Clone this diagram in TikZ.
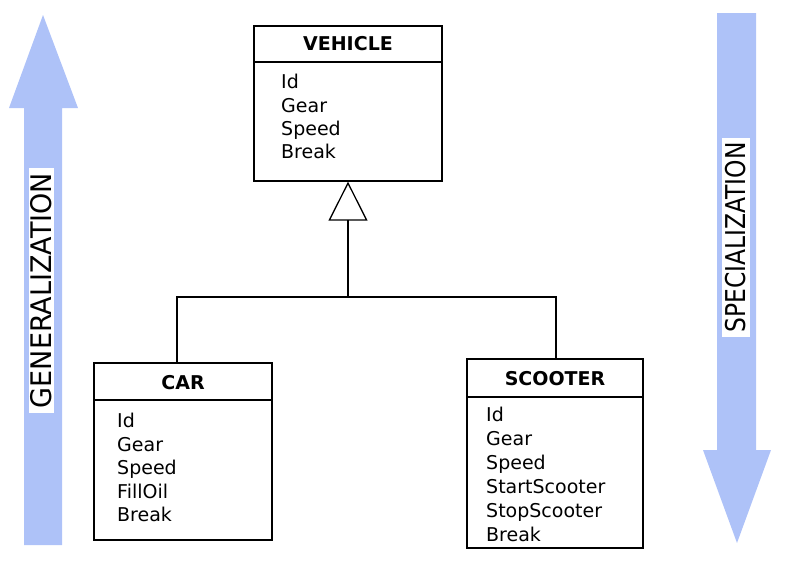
\documentclass[tikz,border=0pt]{standalone}
\usepackage{fontspec}
\setmainfont{DejaVu Sans}
\usetikzlibrary{arrows.meta}
\definecolor{arrowblue}{RGB}{174,194,248}
\begin{document}
\begin{tikzpicture}[x=1pt,y=-1pt,
  classbox/.style={draw=black, line width=1.3pt, rectangle, inner sep=0pt},
  sepline/.style={draw=black, line width=1.3pt},
  classtitle/.style={font=\fontsize{19}{22}\selectfont\bfseries, anchor=center, inner sep=0pt},
  attr/.style={font=\fontsize{19}{22}\selectfont, anchor=base west, inner sep=0pt},
  conn/.style={draw=black, line width=1.3pt},
  bigarrow/.style={fill=arrowblue},
  sidelabel/.style={fill=white, rotate=90, inner sep=0pt, anchor=center}
]
\useasboundingbox (0,0) rectangle (804,568);

% big side arrows
\fill[bigarrow] (43,15) -- (78,108) -- (62,108) -- (62,545) -- (24,545) -- (24,108) -- (9,108) -- cycle;
\fill[bigarrow] (717,13) -- (756,13) -- (756,450) -- (771,450) -- (737,543) -- (703,450) -- (717,450) -- cycle;

\node[sidelabel, minimum width=245pt, minimum height=25pt] (gen) at (41.5,290.5)
  {\scalebox{1}[1.05]{\fontsize{27}{29}\selectfont GENERALIZATION}};
\node[sidelabel, minimum width=199pt, minimum height=28pt] (spec) at (736,237.5)
  {\scalebox{0.9}[1.05]{\fontsize{26}{28}\selectfont SPECIALIZATION}};

% VEHICLE
\node[classbox, minimum width=188pt, minimum height=155pt] (veh) at (348,103.5) {};
\draw[sepline] (254,62) -- (442,62);
\node[classtitle] (vt) at (348,44) {VEHICLE};
\node[attr] (v1) at (281,88) {Id};
\node[attr] (v2) at (281,112) {Gear};
\node[attr] (v3) at (281,135) {Speed};
\node[attr] (v4) at (281,158) {Break};

% CAR
\node[classbox, minimum width=178pt, minimum height=177pt] (car) at (183,451.5) {};
\draw[sepline] (94,400) -- (272,400);
\node[classtitle] (ct) at (183,383) {CAR};
\node[attr] (c1) at (117,427) {Id};
\node[attr] (c2) at (117,451) {Gear};
\node[attr] (c3) at (117,474) {Speed};
\node[attr] (c4) at (117,498) {FillOil};
\node[attr] (c5) at (117,521) {Break};

% SCOOTER
\node[classbox, minimum width=176pt, minimum height=189pt] (sco) at (555,453.5) {};
\draw[sepline] (467,397) -- (643,397);
\node[classtitle] (st) at (555,379) {SCOOTER};
\node[attr] (s1) at (486,421) {Id};
\node[attr] (s2) at (486,445) {Gear};
\node[attr] (s3) at (486,469) {Speed};
\node[attr] (s4) at (486,493) {StartScooter};
\node[attr] (s5) at (486,517) {StopScooter};
\node[attr] (s6) at (486,541) {Break};

% generalization connectors
\coordinate (cj) at (177,363);
\coordinate (sj) at (556,359);
\coordinate (bar) at (348,297);
\draw[conn] (cj) |- (bar) -| (sj);
\draw[conn, -{Triangle[open, length=39pt, width=39pt, line width=1.3pt]}] (bar) -- (veh.south);
\end{tikzpicture}
\end{document}
